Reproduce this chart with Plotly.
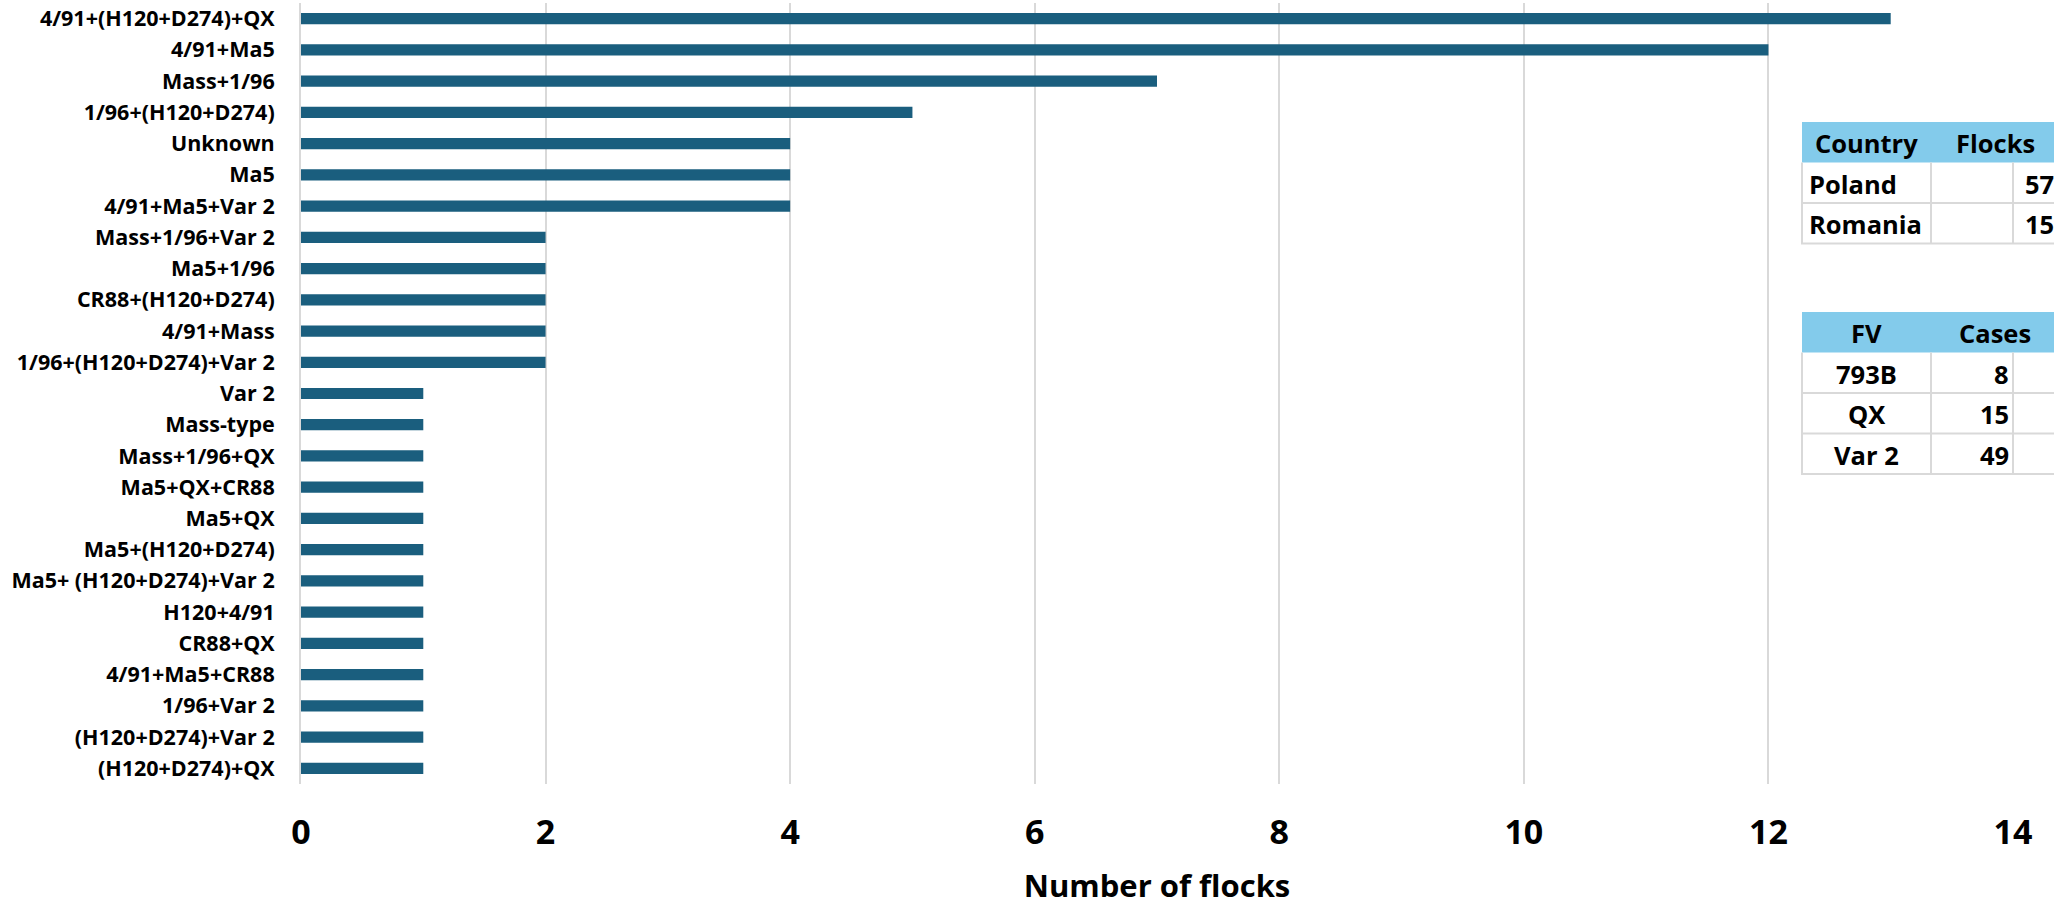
import plotly.graph_objects as go

# Serotype combinations (top to bottom) and number of flocks
combinations = [
    "4/91+(H120+D274)+QX", "4/91+Ma5", "Mass+1/96", "1/96+(H120+D274)",
    "Unknown", "Ma5", "4/91+Ma5+Var 2", "Mass+1/96+Var 2", "Ma5+1/96",
    "CR88+(H120+D274)", "4/91+Mass", "1/96+(H120+D274)+Var 2", "Var 2",
    "Mass-type", "Mass+1/96+QX", "Ma5+QX+CR88", "Ma5+QX", "Ma5+(H120+D274)",
    "Ma5+ (H120+D274)+Var 2", "H120+4/91", "CR88+QX", "4/91+Ma5+CR88",
    "1/96+Var 2", "(H120+D274)+Var 2", "(H120+D274)+QX",
]
flocks = [13, 12, 7, 5, 4, 4, 4, 2, 2, 2, 2, 2, 1, 1, 1, 1, 1, 1, 1, 1, 1, 1, 1, 1, 1]

x_ticks = [0, 2, 4, 6, 8, 10, 12, 14]

# Summary tables
countries = ["Poland", "Romania"]
country_flocks = [57, 15]
field_variants = ["793B", "QX", "Var 2"]
variant_cases = [8, 15, 49]

W, H = 2054, 906
ML, MR, MT, MB = 301, 41, 3, 122
PW, PH = W - ML - MR, H - MT - MB

BAR = "#1A5E7E"
GRID = "#D9D9D9"
HEAD = "#83CBEB"
FONT = "Open Sans"


def px(xp):
    return (xp - ML) / PW


def py(yp):
    return (H - MB - yp) / PH


fig = go.Figure(go.Bar(
    x=flocks, y=combinations, orientation="h",
    marker=dict(color=BAR, line=dict(width=0)),
    hoverinfo="x+y",
))

shapes = []
annotations = []


def rect(x0, y0, x1, y1, fill):
    shapes.append(dict(type="rect", xref="paper", yref="paper",
                       x0=px(x0), x1=px(x1), y0=py(y1), y1=py(y0),
                       fillcolor=fill, line=dict(width=0), layer="above"))


def line(x0, y0, x1, y1):
    shapes.append(dict(type="line", xref="paper", yref="paper",
                       x0=px(x0), x1=px(x1), y0=py(y0), y1=py(y1),
                       line=dict(color=GRID, width=2), layer="above"))


def text(s, xp, yp, anchor):
    annotations.append(dict(text=f"<b>{s}</b>", xref="paper", yref="paper",
                            x=px(xp), y=py(yp), xanchor=anchor, yanchor="middle",
                            showarrow=False,
                            font=dict(family=FONT, size=25.5, color="black")))


X0, XC1, XC2, XR = 1802, 1931, 2013, 2100
ROW = 40.5


def table(top, head1, head2, col1, col2, col1_align, val_x):
    n = len(col1)
    bottom = top + ROW * (n + 1)
    rect(X0, top, XR, bottom, "white")
    rect(X0, top, XR, top + ROW, HEAD)
    text(head1, (X0 + XC1) / 2, top + ROW / 2 + 1, "center")
    text(head2, 1995, top + ROW / 2 + 1, "center")
    body_top = top + ROW
    for xv in (X0, XC1, XC2):
        line(xv, body_top, xv, bottom)
    for i in range(n):
        y_bot = body_top + ROW * (i + 1)
        line(X0 - 1, y_bot, XR, y_bot)
        yc = body_top + ROW * i + ROW / 2 + 1
        if col1_align == "left":
            text(col1[i], X0 + 5, yc, "left")
        else:
            text(col1[i], (X0 + XC1) / 2, yc, "center")
        text(col2[i], val_x, yc, "right")


table(122, "Country", "Flocks", countries, country_flocks, "left", 2056)
table(312, "FV", "Cases", field_variants, variant_cases, "center", 2011)

fig.update_layout(
    width=W, height=H,
    margin=dict(l=ML, r=MR, t=MT, b=MB, pad=0),
    paper_bgcolor="white", plot_bgcolor="white",
    bargap=0.64,
    showlegend=False,
    shapes=shapes,
    annotations=annotations,
    xaxis=dict(
        range=[0, 14], tickvals=x_ticks, ticktext=[str(v) for v in x_ticks],
        showgrid=True, gridcolor=GRID, gridwidth=2,
        zeroline=False, showline=False, ticks="",
        ticklabelstandoff=25,
        tickfont=dict(family=FONT, size=34, color="black", weight="bold"),
        title=dict(text="Number of flocks", standoff=28,
                   font=dict(family=FONT, size=31, color="black", weight="bold")),
    ),
    yaxis=dict(
        categoryorder="array", categoryarray=combinations,
        autorange="reversed",
        showgrid=False, zeroline=False,
        showline=True, linecolor=GRID, linewidth=2,
        ticks="", ticklabelstandoff=20,
        tickfont=dict(family=FONT, size=21.5, color="black", weight="bold"),
    ),
)

fig.write_html("out.html")
